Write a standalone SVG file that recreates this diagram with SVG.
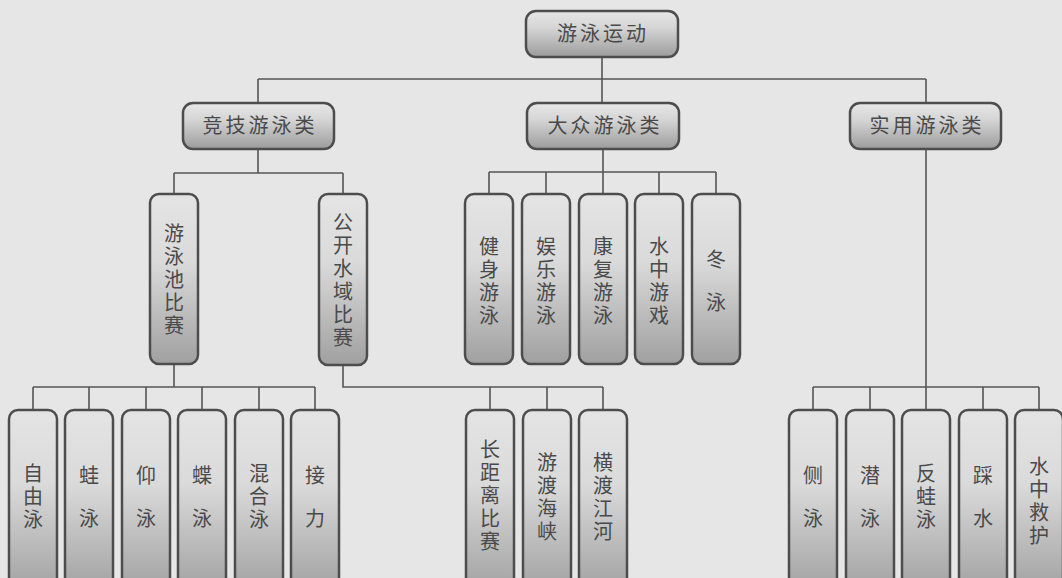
<svg xmlns="http://www.w3.org/2000/svg" width="1062" height="578" viewBox="0 0 1062 578">
<defs>
<linearGradient id="gw" x1="0" y1="0" x2="0" y2="1">
<stop offset="0" stop-color="#e6e6e6"/>
<stop offset="0.35" stop-color="#d6d6d6"/>
<stop offset="1" stop-color="#9c9c9c"/>
</linearGradient>
<linearGradient id="gt" x1="0" y1="0" x2="0" y2="1">
<stop offset="0" stop-color="#e4e4e4"/>
<stop offset="0.4" stop-color="#dadada"/>
<stop offset="1" stop-color="#a0a0a0"/>
</linearGradient>
<style>
.b{fill:url(#gw);stroke:#4d4d4d;stroke-width:2.5}
.t{fill:url(#gt);stroke:#4d4d4d;stroke-width:2.5}
.c{fill:none;stroke:#555;stroke-width:1.6}
text{font-family:"Noto Sans CJK SC","Noto Sans",sans-serif;font-size:20px;fill:#4a4a4a;text-anchor:middle}
.h{letter-spacing:3px}
.v{writing-mode:vertical-rl;letter-spacing:3px}
.w{writing-mode:vertical-rl;letter-spacing:23px}
</style>
</defs>
<rect width="1062" height="578" fill="#e6e6e6"/>
<g id="connectors">
<path class="c" d="M602 57V79M258 79H926M258 79V103M602 79V103M926 79V103"/>
<path class="c" d="M258 149V173M174 173H343M174 173V194M343 173V194"/>
<path class="c" d="M603 149V172M489 172H716M489 172V194M546 172V194M603 172V194M659 172V194M716 172V194"/>
<path class="c" d="M926 149V387M813 387H1039M813 387V410M870 387V410M926 387V410M983 387V410M1039 387V410"/>
<path class="c" d="M174 364V387M33 387H315M33 387V410M89 387V410M146 387V410M202 387V410M259 387V410M315 387V410"/>
<path class="c" d="M343 365V387H603M490 387V410M547 387V410M603 387V410"/>
</g>
<g id="n-root"><rect class="b" x="526" y="11" width="152" height="46" rx="10"/><text class="h" x="603" y="41">游泳运动</text></g>
<g id="n-jingji"><rect class="b" x="183" y="103" width="151" height="46" rx="10"/><text class="h" x="260" y="133">竞技游泳类</text></g>
<g id="n-dazhong"><rect class="b" x="527" y="103" width="152" height="46" rx="10"/><text class="h" x="605" y="133">大众游泳类</text></g>
<g id="n-shiyong"><rect class="b" x="850" y="103" width="151" height="46" rx="10"/><text class="h" x="927" y="133">实用游泳类</text></g>

<g id="n-youyongchi"><rect class="t" x="150" y="194" width="48" height="170" rx="9"/><text class="v" x="174" y="281">游泳池比赛</text></g>
<g id="n-gongkai"><rect class="t" x="319" y="194" width="48" height="171" rx="9"/><text class="v" x="343" y="281">公开水域比赛</text></g>
<g id="n-jianshen"><rect class="t" x="465" y="194" width="48" height="170" rx="9"/><text class="v" x="489" y="282">健身游泳</text></g>
<g id="n-yule"><rect class="t" x="522" y="194" width="48" height="170" rx="9"/><text class="v" x="546" y="282">娱乐游泳</text></g>
<g id="n-kangfu"><rect class="t" x="579" y="194" width="48" height="170" rx="9"/><text class="v" x="603" y="282">康复游泳</text></g>
<g id="n-shuizhongyouxi"><rect class="t" x="635" y="194" width="48" height="170" rx="9"/><text class="v" x="659" y="282">水中游戏</text></g>
<g id="n-dongyong"><rect class="t" x="692" y="194" width="48" height="170" rx="9"/><text class="w" x="716" y="292">冬泳</text></g>

<g id="n-ziyou"><rect class="t" x="9" y="410" width="48" height="185" rx="9"/><text class="v" x="33" y="498">自由泳</text></g>
<g id="n-wa"><rect class="t" x="65" y="410" width="48" height="185" rx="9"/><text class="w" x="89" y="508">蛙泳</text></g>
<g id="n-yang"><rect class="t" x="122" y="410" width="48" height="185" rx="9"/><text class="w" x="146" y="508">仰泳</text></g>
<g id="n-die"><rect class="t" x="178" y="410" width="48" height="185" rx="9"/><text class="w" x="202" y="508">蝶泳</text></g>
<g id="n-hunhe"><rect class="t" x="235" y="410" width="48" height="185" rx="9"/><text class="v" x="259" y="498">混合泳</text></g>
<g id="n-jieli"><rect class="t" x="291" y="410" width="48" height="185" rx="9"/><text class="w" x="315" y="508">接力</text></g>

<g id="n-changjuli"><rect class="t" x="466" y="410" width="48" height="185" rx="9"/><text class="v" x="490" y="497">长距离比赛</text></g>
<g id="n-youdu"><rect class="t" x="523" y="410" width="48" height="185" rx="9"/><text class="v" x="547" y="498">游渡海峡</text></g>
<g id="n-hengdu"><rect class="t" x="579" y="410" width="48" height="185" rx="9"/><text class="v" x="603" y="498">横渡江河</text></g>

<g id="n-ce"><rect class="t" x="789" y="410" width="48" height="185" rx="9"/><text class="w" x="813" y="508">侧泳</text></g>
<g id="n-qian"><rect class="t" x="846" y="410" width="48" height="185" rx="9"/><text class="w" x="870" y="508">潜泳</text></g>
<g id="n-fanwa"><rect class="t" x="902" y="410" width="48" height="185" rx="9"/><text class="v" x="926" y="498">反蛙泳</text></g>
<g id="n-cai"><rect class="t" x="959" y="410" width="48" height="185" rx="9"/><text class="w" x="983" y="508">踩水</text></g>
<g id="n-jiuhu"><rect class="t" x="1015" y="410" width="48" height="185" rx="9"/><text class="v" x="1039" y="502">水中救护</text></g>
</svg>
